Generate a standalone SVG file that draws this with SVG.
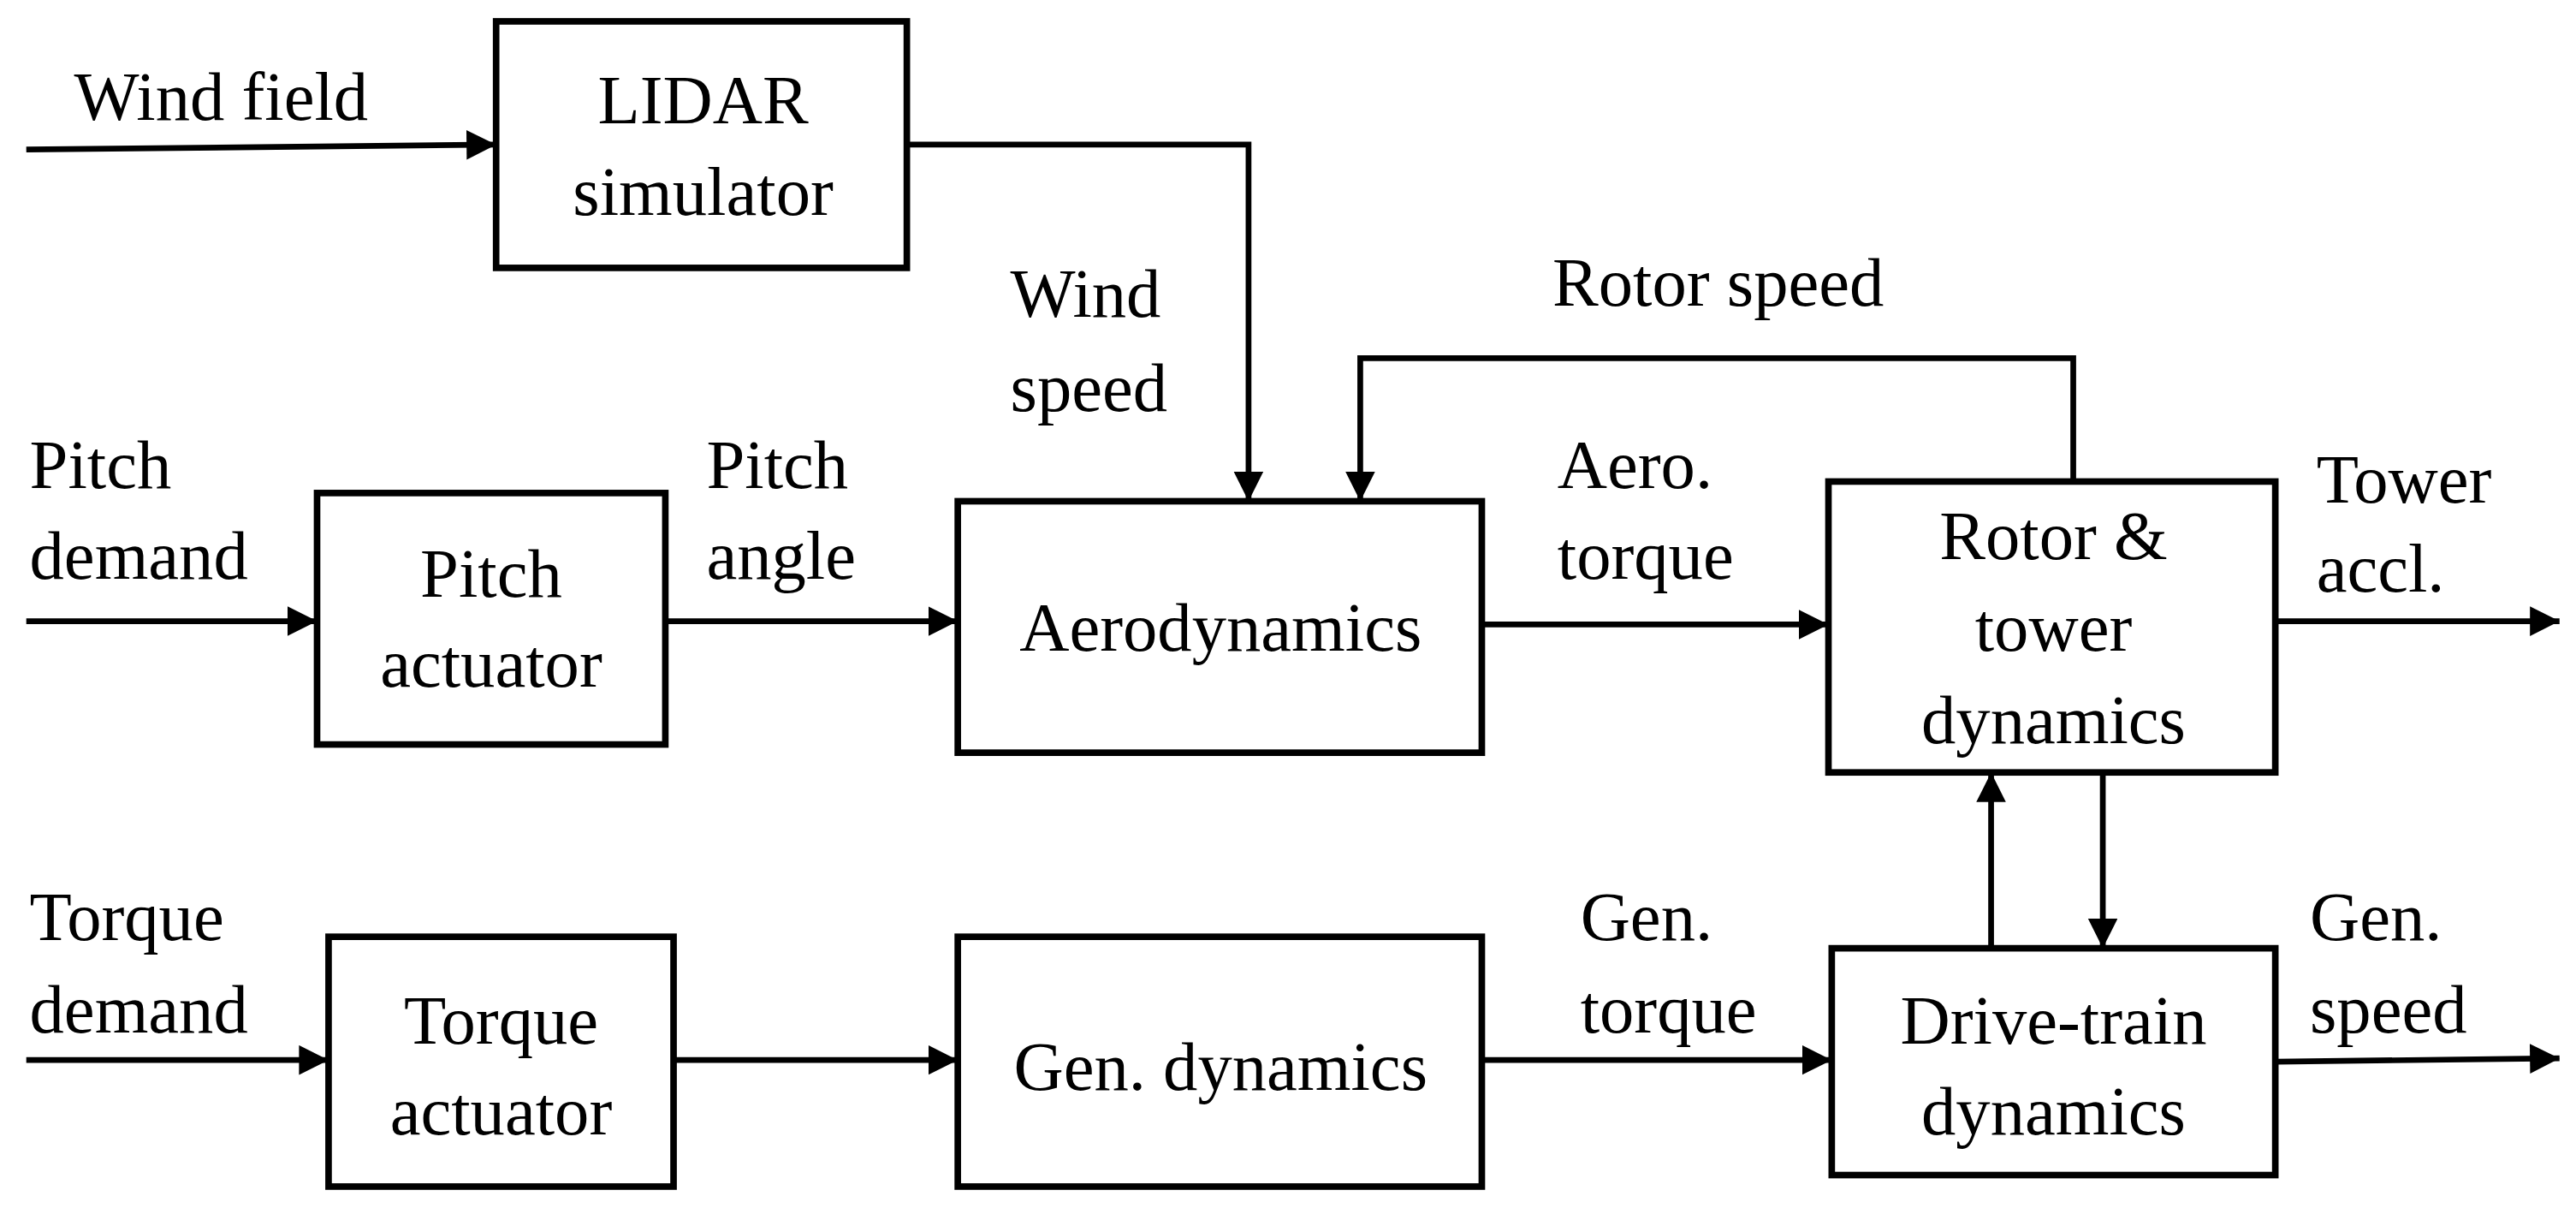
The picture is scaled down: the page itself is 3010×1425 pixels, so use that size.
<svg xmlns="http://www.w3.org/2000/svg" width="3010" height="1425" viewBox="0 0 3010 1425">
<style>
.b{fill:#fff;stroke:#000;stroke-width:4}
.c{fill:none;stroke:#000;stroke-width:3.5}
text{font-family:"Liberation Serif",serif;font-size:42px;fill:#000}
.m{text-anchor:middle}
</style>
<defs><marker id="a" markerUnits="userSpaceOnUse" markerWidth="20" markerHeight="20" refX="18" refY="9" orient="auto"><path d="M0,0L18,9L0,18z"/></marker></defs>
<rect width="3010" height="1425" fill="#fff"/>
<g transform="scale(1.9196)">
<g id="connectors">
<path class="c" d="M16,91L302,88" marker-end="url(#a)"/>
<path class="c" d="M552,88H760V305" marker-end="url(#a)"/>
<path class="c" d="M16,378H193" marker-end="url(#a)"/>
<path class="c" d="M405,378H583" marker-end="url(#a)"/>
<path class="c" d="M902,380H1113" marker-end="url(#a)"/>
<path class="c" d="M1262,293V218H828V305" marker-end="url(#a)"/>
<path class="c" d="M1385,378H1558" marker-end="url(#a)"/>
<path class="c" d="M16,645H200" marker-end="url(#a)"/>
<path class="c" d="M410,645H583" marker-end="url(#a)"/>
<path class="c" d="M902,645H1115" marker-end="url(#a)"/>
<path class="c" d="M1385,646L1558,644" marker-end="url(#a)"/>
<path class="c" d="M1212,577V470" marker-end="url(#a)"/>
<path class="c" d="M1280,470V577" marker-end="url(#a)"/>
</g>
<g id="lidar"><rect class="b" x="302" y="13" width="250" height="150"/><text class="m" x="428" y="75">LIDAR</text><text class="m" x="428" y="131">simulator</text></g>
<g id="pitch-actuator"><rect class="b" x="193" y="300" width="212" height="153"/><text class="m" x="299" y="363">Pitch</text><text class="m" x="299" y="418">actuator</text></g>
<g id="aerodynamics"><rect class="b" x="583" y="305" width="319" height="153"/><text class="m" x="743" y="396">Aerodynamics</text></g>
<g id="rotor-tower"><rect class="b" x="1113" y="293" width="272" height="177"/><text class="m" x="1250" y="340">Rotor &amp;</text><text class="m" x="1250" y="396">tower</text><text class="m" x="1250" y="452">dynamics</text></g>
<g id="torque-actuator"><rect class="b" x="200" y="570" width="210" height="152"/><text class="m" x="305" y="635">Torque</text><text class="m" x="305" y="690">actuator</text></g>
<g id="gen-dynamics"><rect class="b" x="583" y="570" width="319" height="152"/><text class="m" x="743" y="663">Gen. dynamics</text></g>
<g id="drive-train"><rect class="b" x="1115" y="577" width="270" height="138"/><text class="m" x="1250" y="635">Drive-train</text><text class="m" x="1250" y="690">dynamics</text></g>
<g id="labels">
<text x="45" y="73">Wind field</text>
<text x="615" y="193">Wind</text><text x="615" y="250">speed</text>
<text x="945" y="186">Rotor speed</text>
<text x="18" y="297">Pitch</text><text x="18" y="352">demand</text>
<text x="430" y="297">Pitch</text><text x="430" y="352">angle</text>
<text x="948" y="297">Aero.</text><text x="948" y="352">torque</text>
<text x="1410" y="306">Tower</text><text x="1410" y="360">accl.</text>
<text x="18" y="572">Torque</text><text x="18" y="628">demand</text>
<text x="962" y="572">Gen.</text><text x="962" y="628">torque</text>
<text x="1406" y="572">Gen.</text><text x="1406" y="628">speed</text>
</g>
</g>
</svg>
